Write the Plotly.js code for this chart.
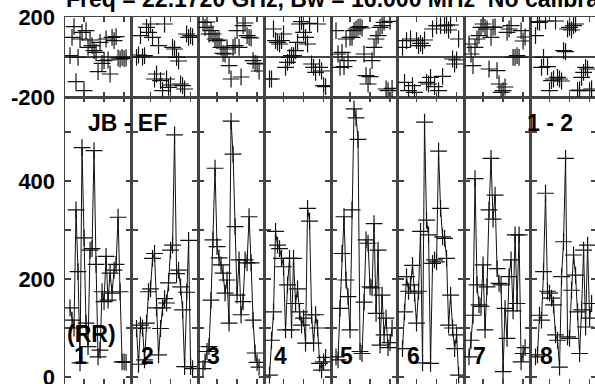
<!DOCTYPE html>
<html><head><meta charset="utf-8">
<script src="https://cdn.plot.ly/plotly-3.0.1.min.js"></script>
<style>html,body{margin:0;padding:0;overflow:hidden;background:#fff}#chart{width:600px;height:384px}</style>
</head><body><div id="chart"></div>
<script>
const channels = [3,4,5,6,7,8,9,10,11,12,13,14,15,16,17,18,19,20,21,22,23,24,25,26,27,28,29,30,31];
const ifLabels = ['1','2','3','4','5','6','7','8'];
const chanTicks = [10,20,30];
const ampTicks = [0,100,200,300,400,500];
const ampTickText = ['0','','200','','400',''];
const phaseTicks = [-200,200];
const phaseTickText = ['-200','200'];
const titleText = 'Freq = 22.1720 GHz, Bw = 16.000 MHz  No calibration';
const baselineLabel = 'JB - EF';
const sourceLabel = '1 - 2';
const polLabel = '(RR)';

const amp1 = [141,116,100,341,215,29,468,284,110,62,259,262,462,230,41,55,174,154,246,157,212,171,218,230,326,174,31,31,30];
const amp2 = [99,26,106,100,35,110,174,180,242,252,141,45,99,141,160,151,192,259,269,494,211,218,184,137,21,173,279,21,17];
const amp3 = [17,31,52,62,157,280,426,266,243,229,212,171,198,110,522,455,307,167,239,127,154,239,233,327,233,116,49,30,20];
const amp4 = [4,75,133,297,269,262,242,225,96,188,242,96,242,150,180,133,106,120,69,344,318,127,69,127,100,28,14,31,40];
const amp5 = [41,35,140,252,327,198,164,96,341,547,529,485,52,48,153,280,273,184,182,313,130,259,65,167,86,120,60,70,100];
const amp6 = [58,133,205,175,188,228,171,110,175,297,29,520,320,290,28,232,239,235,461,344,286,283,242,106,167,100,58,86,4];
const amp7 = [41,75,126,405,188,147,144,229,96,184,341,446,322,371,221,191,188,11,140,79,205,239,135,290,150,290,31,48,60];
const amp8 = [41,45,126,116,215,375,175,171,161,147,86,75,20,205,276,446,82,79,177,249,208,133,48,137,259,102,269,120,150];

const phase1 = [7,98,152,-123,-2,90,123,-168,132,48,85,57,32,23,-73,73,-32,-18,90,-15,-85,98,82,102,-5,-10,-2,-8,-5];
const phase2 = [-2,10,107,0,7,148,123,165,98,-110,-85,57,-118,-168,165,-110,-152,-140,48,40,-2,-20,-135,-143,-160,115,98,107,100];
const phase3 = [173,148,175,115,132,115,90,82,85,48,18,15,40,-43,-110,48,57,132,48,-100,157,170,107,98,95,-18,-32,-35,-70];
const phase4 = [-110,-110,140,82,73,65,82,115,-52,-27,-2,7,7,32,73,165,177,123,98,65,168,-35,-52,-77,165,-52,-70,-143,-148];
const phase5 = [132,15,-52,23,-48,90,-18,98,98,132,140,148,152,145,15,-93,-135,-98,-18,48,90,107,148,157,173,-160,-168,178,-157];
const phase6 = [48,-127,82,-168,90,-143,-177,82,57,68,57,85,-127,-135,-102,140,-148,157,-168,157,-97,157,160,135,160,-10,-35,-15,90];
const phase7 = [65,15,-43,48,90,107,148,165,148,140,-60,98,148,150,-68,-135,-177,-168,-150,123,140,157,-2,-2,7,-2,132,80,100];
const phase8 = [107,177,173,-52,-2,180,-48,-168,-118,-110,180,-102,-110,-120,32,27,140,148,135,157,165,-168,-165,-102,-77,-52,-60,-168,-160];

const amps = [amp1,amp2,amp3,amp4,amp5,amp6,amp7,amp8];
const phases = [phase1,phase2,phase3,phase4,phase5,phase6,phase7,phase8];

const nIF = ifLabels.length;
const split = 0.782;
const lineCol = '#444';
const markCol = '#111';
const tickFont = {family:'Liberation Sans, Arial, sans-serif', size:22, weight:'bold', color:'#000'};
const annFont = {family:'Liberation Sans, Arial, sans-serif', size:23, weight:'bold', color:'#000'};

const an = (i) => i === 1 ? '' : String(i);
const traces = [];
const layout = {
  width:600, height:384,
  margin:{l:65, r:3, t:17, b:0, pad:0},
  paper_bgcolor:'#fff', plot_bgcolor:'#fff',
  showlegend:false,
  annotations:[], font:tickFont
};

for (let k = 0; k < nIF; k++) {
  const bi = k + 1, ti = k + 1 + nIF;
  const dom = [k / nIF, (k + 1) / nIF];
  const xBase = {domain:dom, range:[0.5,33.7], tickvals:chanTicks, ticks:'inside', ticklen:5, tickwidth:1.2, tickcolor:lineCol,
    showticklabels:false, showline:true, mirror:'ticks', linecolor:lineCol, linewidth:1.5, showgrid:false, zeroline:false, fixedrange:true};
  layout['xaxis' + an(bi)] = Object.assign({}, xBase, {anchor:'y' + an(bi)});
  layout['xaxis' + an(ti)] = Object.assign({}, xBase, {anchor:'y' + an(ti)});
  layout['yaxis' + an(bi)] = {domain:[0, split], anchor:'x' + an(bi), range:[-14.3, 571.4], tickvals:ampTicks, ticktext:ampTickText,
    ticks:'inside', ticklen:6, tickwidth:1.2, tickcolor:lineCol, showticklabels:k === 0, tickfont:tickFont, ticklabelstandoff:4,
    ticklabeloverflow:'allow',
    showline:true, mirror:'ticks', linecolor:lineCol, linewidth:1.5, showgrid:false, zeroline:false, fixedrange:true};
  layout['yaxis' + an(ti)] = {domain:[split, 1], anchor:'x' + an(ti), range:[-200, 200], tickvals:phaseTicks, ticktext:phaseTickText,
    ticks:'', showticklabels:k === 0, tickfont:tickFont, ticklabelstandoff:4, ticklabeloverflow:'allow',
    showline:true, mirror:true, linecolor:lineCol, linewidth:1.5, showgrid:false,
    zeroline:true, zerolinecolor:lineCol, zerolinewidth:1.5, fixedrange:true};

  traces.push({type:'scatter', mode:'lines+markers', x:channels, y:amps[k], xaxis:'x' + an(bi), yaxis:'y' + an(bi),
    line:{color:markCol, width:1}, marker:{symbol:'cross-thin', size:12, line:{color:markCol, width:1.2}}, hoverinfo:'skip'});
  traces.push({type:'scatter', mode:'markers', x:channels, y:phases[k], xaxis:'x' + an(ti), yaxis:'y' + an(ti),
    marker:{symbol:'cross-thin', size:12, line:{color:markCol, width:1.2}}, hoverinfo:'skip'});

  layout.annotations.push({xref:'x' + an(bi), yref:'paper', x:4.5, y:0.076, xanchor:'left', yanchor:'middle',
    text:ifLabels[k], showarrow:false, font:annFont, borderpad:0});
}

layout.annotations.push({xref:'paper', yref:'paper', x:0, y:1, xanchor:'left', yanchor:'bottom', yshift:4,
  text:titleText, showarrow:false, font:annFont, borderpad:0});
layout.annotations.push({xref:'paper', yref:'paper', x:(87-65)/532, y:0.711, xanchor:'left', yanchor:'middle',
  text:baselineLabel, showarrow:false, font:annFont, borderpad:0});
layout.annotations.push({xref:'paper', yref:'paper', x:(526-65)/532, y:0.711, xanchor:'left', yanchor:'middle',
  text:sourceLabel, showarrow:false, font:annFont, borderpad:0});
layout.annotations.push({xref:'paper', yref:'paper', x:(66-65)/532, y:0.136, xanchor:'left', yanchor:'middle',
  text:polLabel, showarrow:false, font:annFont, borderpad:0});

Plotly.newPlot('chart', traces, layout, {staticPlot:true, displayModeBar:false});
</script>
</body></html>
